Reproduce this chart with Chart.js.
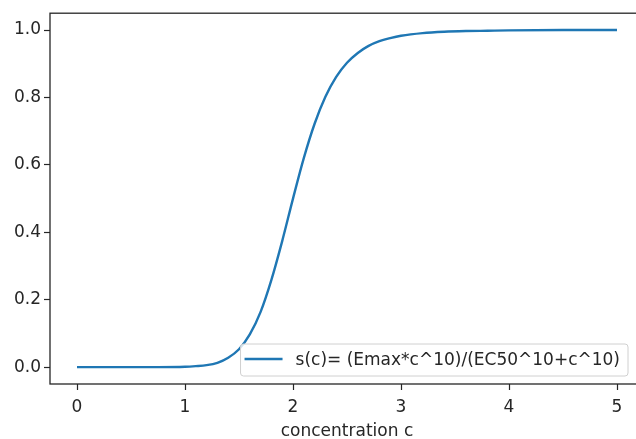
<!DOCTYPE html>
<html>
<head>
<meta charset="utf-8">
<script src="https://cdn.jsdelivr.net/npm/chart.js@4"></script>
<style>
  html, body { margin: 0; padding: 0; background: #fff; overflow: hidden; }
  #wrap { width: 650px; height: 439px; }
</style>
</head>
<body>
<div id="wrap"><canvas id="myChart" width="650" height="439"></canvas></div>
<script>
// concentration values and response
const concentrations = [0, 0.25, 0.5, 0.75, 1.0, 1.1, 1.2, 1.3, 1.4, 1.5, 1.6, 1.7, 1.8, 1.9, 2.0,
    2.1, 2.2, 2.3, 2.4, 2.5, 2.6, 2.7, 2.8, 2.9, 3.0, 3.2, 3.4, 3.6, 3.8, 4.0, 4.5, 5.0]
const response = [0, 0, 0, 0, 0.001, 0.003, 0.006, 0.013, 0.028, 0.053, 0.097, 0.164, 0.259, 0.374, 0.5,
    0.62, 0.722, 0.802, 0.861, 0.903, 0.932, 0.953, 0.967, 0.976, 0.983, 0.991, 0.995, 0.997, 0.998, 0.999, 1.0, 1.0]
const xTicks = [0, 1, 2, 3, 4, 5]
const yTicks = [0, 0.2, 0.4, 0.6, 0.8, 1.0]
const seriesLabel = 's(c)= (Emax*c^10)/(EC50^10+c^10)'
const xTitle = 'concentration c'

const FONT = "'DejaVu Sans', sans-serif"
const FSIZE = 17
const INK = '#262626'

const points = concentrations.map((c, i) => ({ x: c, y: response[i] }))

// box around the plot + legend in the lower right corner
const framePlugin = {
    id: 'frame',
    afterDraw(chart) {
        const ctx = chart.ctx
        const a = chart.chartArea
        ctx.save()
        ctx.strokeStyle = INK
        ctx.lineWidth = 1.3
        ctx.strokeRect(a.left, a.top, a.right - a.left, a.bottom - a.top)

        ctx.font = FSIZE + 'px ' + FONT
        const tw = ctx.measureText(seriesLabel).width
        const right = 628, bottom = 376
        const h = 32
        const w = tw + 63
        const left = right - w, top = bottom - h
        ctx.fillStyle = 'rgba(255,255,255,0.8)'
        ctx.strokeStyle = '#d0d0d0'
        ctx.lineWidth = 1
        ctx.beginPath()
        ctx.roundRect(left, top, w, h, 3)
        ctx.fill()
        ctx.stroke()
        ctx.strokeStyle = '#1f77b4'
        ctx.lineWidth = 2.4
        ctx.beginPath()
        ctx.moveTo(left + 4, top + h / 2 - 1)
        ctx.lineTo(left + 42, top + h / 2 - 1)
        ctx.stroke()
        ctx.fillStyle = INK
        ctx.textBaseline = 'middle'
        ctx.fillText(seriesLabel, left + 55, top + h / 2 + 1)
        ctx.restore()
    }
}

try {
    var ctx = document.getElementById('myChart').getContext('2d');
    var myChart = new Chart(ctx, {
        type: 'scatter',
        data: {
            datasets: [{
                label: seriesLabel,
                data: points,
                showLine: true,
                borderColor: '#1f77b4',
                borderWidth: 2.4,
                pointRadius: 0,
                cubicInterpolationMode: 'monotone',
                fill: false
            }]
        },
        options: {
            responsive: false,
            animation: false,
            events: [],
            layout: { padding: { top: 10, right: 6, left: 0, bottom: 0 } },
            plugins: {
                legend: { display: false },
                tooltip: { enabled: false }
            },
            scales: {
                x: {
                    type: 'linear',
                    min: -0.25,
                    max: 5.25,
                    afterBuildTicks: s => { s.ticks = xTicks.map(v => ({ value: v })) },
                    afterFit: s => { s.height = 55 },
                    grid: { drawOnChartArea: false, tickLength: 6, color: INK, tickWidth: 1.2 },
                    border: { display: false },
                    ticks: {
                        color: INK, padding: 7, maxRotation: 0,
                        font: { family: FONT, size: FSIZE },
                        callback: v => String(v)
                    },
                    title: {
                        display: true, text: xTitle, color: INK,
                        font: { family: FONT, size: FSIZE },
                        padding: { top: 3, bottom: -3 }
                    }
                },
                y: {
                    min: -0.05,
                    max: 1.05,
                    afterBuildTicks: s => { s.ticks = yTicks.map(v => ({ value: v })) },
                    afterFit: s => { s.width = 50 },
                    grid: { drawOnChartArea: false, tickLength: 6, color: INK, tickWidth: 1.2 },
                    border: { display: false },
                    ticks: {
                        color: INK, padding: 3,
                        font: { family: FONT, size: FSIZE },
                        callback: v => v.toFixed(1)
                    }
                }
            }
        },
        plugins: [framePlugin]
    });
} catch (error) {
    console.log(error);
}
</script>
</body>
</html>
